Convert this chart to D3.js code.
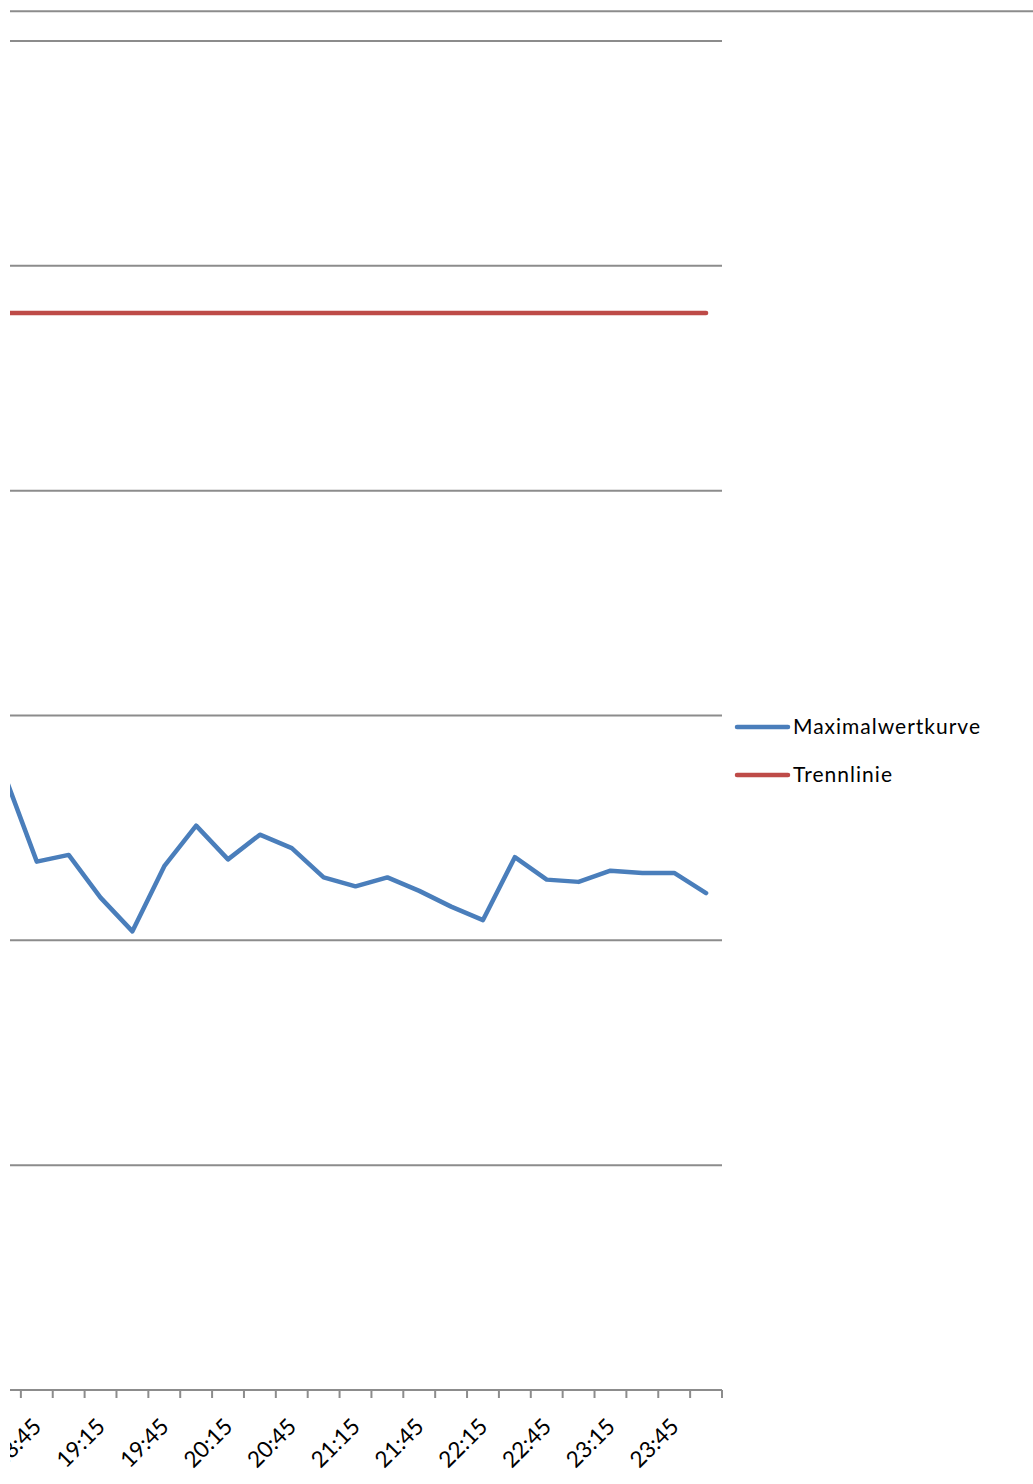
<!DOCTYPE html>
<html>
<head>
<meta charset="utf-8">
<script src="https://cdn.jsdelivr.net/npm/d3@7"></script>
<style>
  body { margin: 0; background: #fff; }
  svg { display: block; font-family: Lato, "Liberation Sans", sans-serif; }
</style>
</head>
<body>
<div id="chart"></div>
<script>
const width = 1033;
const height = 1484;

// 15-minute categories (the left part of the original chart is cut off)
const times = ["18:30", "18:45", "19:00", "19:15", "19:30", "19:45", "20:00", "20:15",
  "20:30", "20:45", "21:00", "21:15", "21:30", "21:45", "22:00", "22:15",
  "22:30", "22:45", "23:00", "23:15", "23:30", "23:45", "00:00"];

// Maximalwertkurve
const maxValues = [27.3, 23.5, 23.8, 21.9, 20.4, 23.3, 25.1, 23.6,
  24.7, 24.1, 22.8, 22.4, 22.8, 22.2, 21.5, 20.9,
  23.7, 22.7, 22.6, 23.1, 23.0, 23.0, 22.1];

// Trennlinie is flat
const splitValue = 47.9;

const yTicks = [0, 10, 20, 30, 40, 50, 60];

const plotLeft = 10, plotRight = 722, plotTop = 41, plotBottom = 1390;

const x = d3.scaleBand()
  .domain(times)
  .range([-11, plotRight])
  .paddingInner(0).paddingOuter(0);

const y = d3.scaleLinear()
  .domain([0, 60])
  .range([plotBottom, plotTop]);

const svg = d3.select("#chart").append("svg")
  .attr("width", width)
  .attr("height", height);

svg.append("defs").append("clipPath").attr("id", "plot-clip")
  .append("rect")
  .attr("x", plotLeft).attr("y", 0)
  .attr("width", width - plotLeft).attr("height", height);

// top border line across the picture
svg.append("line")
  .attr("x1", plotLeft).attr("x2", width)
  .attr("y1", 11.3).attr("y2", 11.3)
  .attr("stroke", "#8c8c8c").attr("stroke-width", 2);

// horizontal gridlines
svg.append("g")
  .selectAll("line")
  .data(yTicks.slice(1))
  .enter().append("line")
  .attr("x1", plotLeft).attr("x2", plotRight)
  .attr("y1", d => y(d)).attr("y2", d => y(d))
  .attr("stroke", "#8c8c8c").attr("stroke-width", 2);

// x axis with ticks between categories
const tickPos = times.map(t => x(t)).concat([x(times[times.length - 1]) + x.bandwidth()]);
const axis = svg.append("g").attr("clip-path", "url(#plot-clip)");
axis.append("line")
  .attr("x1", plotLeft).attr("x2", plotRight)
  .attr("y1", plotBottom).attr("y2", plotBottom)
  .attr("stroke", "#8c8c8c").attr("stroke-width", 2);
axis.selectAll("line.tick")
  .data(tickPos)
  .enter().append("line")
  .attr("class", "tick")
  .attr("x1", d => d).attr("x2", d => d)
  .attr("y1", plotBottom).attr("y2", plotBottom + 8)
  .attr("stroke", "#8c8c8c").attr("stroke-width", 2);

// category labels, every second one, rotated
svg.append("g").attr("clip-path", "url(#plot-clip)")
  .selectAll("text")
  .data(times.filter((t, i) => i % 2 === 1))
  .enter().append("text")
  .attr("transform", d => `translate(${x(d) + x.bandwidth() / 2 + 6},1428) rotate(-45)`)
  .attr("text-anchor", "end")
  .attr("font-size", 22.5)
  .attr("fill", "#000")
  .text(d => d);

const line = d3.line()
  .x((d, i) => x(times[i]) + x.bandwidth() / 2)
  .y(d => y(d));

const plot = svg.append("g").attr("clip-path", "url(#plot-clip)");

plot.append("path")
  .datum(times.map(() => splitValue))
  .attr("d", line)
  .attr("fill", "none")
  .attr("stroke", "#be4b48")
  .attr("stroke-width", 4.5)
  .attr("stroke-linecap", "round");

plot.append("path")
  .datum(maxValues)
  .attr("d", line)
  .attr("fill", "none")
  .attr("stroke", "#4a7ebb")
  .attr("stroke-width", 4.5)
  .attr("stroke-linejoin", "round")
  .attr("stroke-linecap", "round");

// legend
const legendItems = [
  { name: "Maximalwertkurve", color: "#4a7ebb", width: 187 },
  { name: "Trennlinie", color: "#be4b48", width: 99 }
];
const legend = svg.append("g");
legend.selectAll("line")
  .data(legendItems)
  .enter().append("line")
  .attr("x1", 737).attr("x2", 788)
  .attr("y1", (d, i) => 727 + i * 48).attr("y2", (d, i) => 727 + i * 48)
  .attr("stroke", d => d.color)
  .attr("stroke-width", 4.5)
  .attr("stroke-linecap", "round");
legend.selectAll("text")
  .data(legendItems)
  .enter().append("text")
  .attr("x", 793)
  .attr("y", (d, i) => 734 + i * 48)
  .attr("font-size", 21)
  .attr("textLength", d => d.width)
  .attr("lengthAdjust", "spacing")
  .attr("fill", "#000")
  .text(d => d.name);
</script>
</body>
</html>
